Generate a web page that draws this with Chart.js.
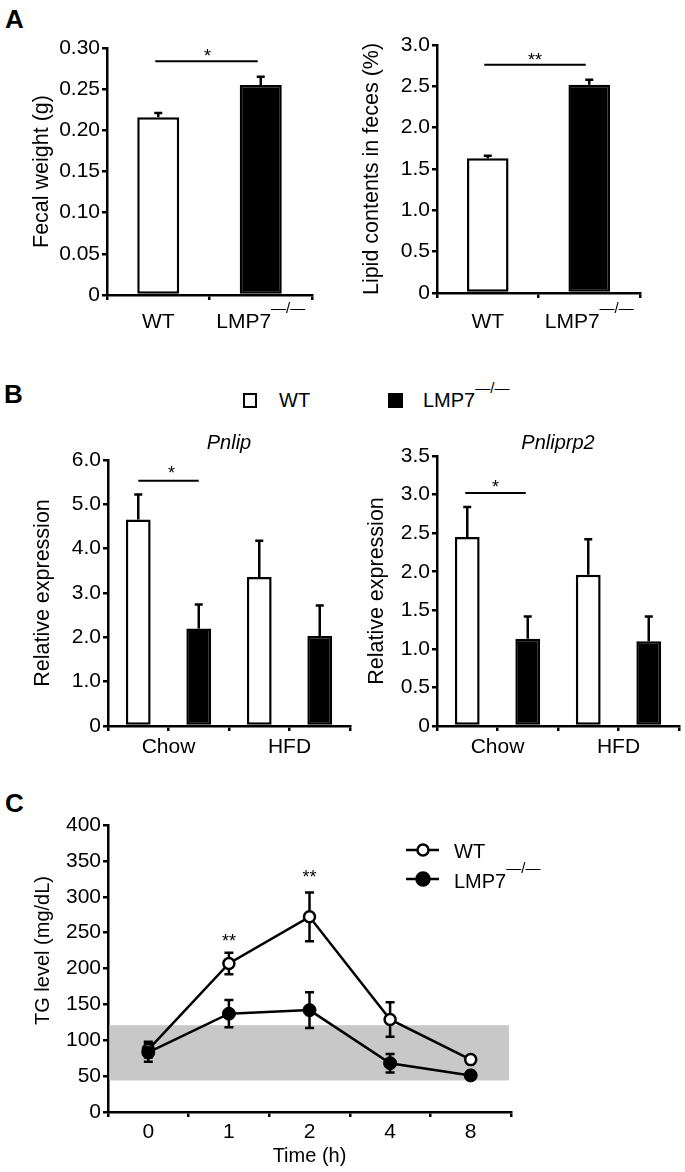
<!DOCTYPE html>
<html>
<head>
<meta charset="utf-8">
<title>LMP7 figure</title>
<script src="https://cdn.jsdelivr.net/npm/chart.js@4.4.1/dist/chart.umd.min.js"></script>
<style>
html,body{margin:0;padding:0;background:#fff;}
body{position:relative;width:685px;height:1172px;overflow:hidden;font-family:'Liberation Sans',Arial,Helvetica,sans-serif;color:#000;}
canvas{position:absolute;}
.lbl{position:absolute;line-height:1;white-space:nowrap;}
.panel{font-weight:bold;font-size:26px;}
.sw{position:absolute;box-sizing:border-box;border:2.5px solid #000;}
.sup{position:relative;top:-14px;font-size:15px;}
</style>
</head>
<body>
<div class="lbl panel" style="left:5px;top:6px">A</div>
<div class="lbl panel" style="left:4px;top:381px">B</div>
<div class="lbl panel" style="left:5px;top:790px">C</div>
<div class="sw" style="left:243px;top:393px;width:14px;height:15px;background:#fff"></div>
<div class="lbl" style="left:279px;top:390px;font-size:20px">WT</div>
<div class="sw" style="left:388px;top:393px;width:15px;height:15px;background:#000"></div>
<div class="lbl" style="left:423px;top:390px;font-size:20px">LMP7<span class="sup">—/—</span></div>

<canvas id="cA1" width="345" height="345" style="left:0;top:0"></canvas>
<canvas id="cA2" width="345" height="345" style="left:340px;top:0"></canvas>
<canvas id="cB1" width="360" height="360" style="left:0;top:420px"></canvas>
<canvas id="cB2" width="340" height="360" style="left:345px;top:420px"></canvas>
<canvas id="cC" width="685" height="392" style="left:0;top:780px"></canvas>

<script>
// ---------------- data ----------------
const genotypes = ['WT', 'LMP7'];
const genotypeSup = ['', '—/—'];

const fecalWeight = [0.216, 0.255];
const fecalWeightErr = [0.005, 0.010];
const fecalTicks = [0, 0.05, 0.10, 0.15, 0.20, 0.25, 0.30];

const lipidContent = [1.63, 2.52];
const lipidContentErr = [0.03, 0.06];
const lipidTicks = [0, 0.5, 1.0, 1.5, 2.0, 2.5, 3.0];

const diets = ['Chow', 'HFD'];
const pnlipWT = [4.66, 3.36];
const pnlipWTErr = [0.56, 0.82];
const pnlipKO = [2.20, 2.03];
const pnlipKOErr = [0.54, 0.69];
const pnlipTicks = [0, 1, 2, 3, 4, 5, 6];

const pnliprp2WT = [2.45, 1.96];
const pnliprp2WTErr = [0.39, 0.46];
const pnliprp2KO = [1.13, 1.10];
const pnliprp2KOErr = [0.29, 0.32];
const pnliprp2Ticks = [0, 0.5, 1.0, 1.5, 2.0, 2.5, 3.0, 3.5];

const timePoints = ['0', '1', '2', '4', '8'];
const tgWT = [87, 207, 272, 129, 73];
const tgWTErr = [11, 15, 34, 24, 4];
const tgKO = [83, 137, 142, 68, 51];
const tgKOErr = [13, 19, 25, 13, 6];
const tgTicks = [0, 50, 100, 150, 200, 250, 300, 350, 400];
const tgNormalRange = [44, 121];

// ---------------- helpers ----------------
const FONT = "'Liberation Sans', Arial, Helvetica, sans-serif";
Chart.defaults.font.family = FONT;
Chart.defaults.color = '#000';
const BLACK = '#000';
const AXW = 2.5;

function drawSup(ctx, base, sup, x, y, fs, sfs, rise, align) {
  ctx.save();
  ctx.fillStyle = BLACK;
  ctx.textBaseline = 'alphabetic';
  ctx.textAlign = 'left';
  ctx.font = fs + 'px ' + FONT;
  const w1 = ctx.measureText(base).width;
  ctx.font = sfs + 'px ' + FONT;
  const w2 = sup ? ctx.measureText(sup).width : 0;
  const x0 = align === 'center' ? x - (w1 + w2) / 2 : x;
  ctx.font = fs + 'px ' + FONT;
  ctx.fillText(base, x0, y);
  if (sup) {
    ctx.font = sfs + 'px ' + FONT;
    ctx.fillText(sup, x0 + w1, y - rise);
  }
  ctx.restore();
}

function yAxis(ticksArr, dec, title, titleSize, titleCenter, width) {
  const lh = titleSize * 1.2;
  return {
    type: 'linear',
    min: ticksArr[0],
    max: ticksArr[ticksArr.length - 1],
    afterBuildTicks: s => { s.ticks = ticksArr.map(v => ({ value: v })); },
    afterFit: s => { s.width = width; },
    grid: { drawOnChartArea: false, drawTicks: true, tickLength: 5, color: BLACK, lineWidth: AXW },
    border: { display: true, color: BLACK, width: AXW },
    ticks: { color: BLACK, font: { size: 21 }, padding: 2, callback: v => v === 0 ? '0' : Number(v).toFixed(dec) },
    title: { display: !!title, text: title || '', color: BLACK, font: { size: titleSize }, padding: { top: titleCenter - lh / 2, bottom: 0 } }
  };
}

function baseOptions(pad, scales) {
  return {
    responsive: false, animation: false, devicePixelRatio: 1, events: [],
    layout: { padding: pad },
    plugins: { legend: { display: false }, tooltip: { enabled: false }, title: { display: false } },
    scales
  };
}

function barErrorPlugin(cap) {
  return {
    id: 'barErrors',
    afterDatasetsDraw(chart) {
      const { ctx } = chart;
      const ys = chart.scales.y;
      chart.data.datasets.forEach((ds, di) => {
        const meta = chart.getDatasetMeta(di);
        meta.data.forEach((bar, i) => {
          const raw = ds.data[i];
          const val = typeof raw === 'object' ? raw.y : raw;
          const yTop = ys.getPixelForValue(val);
          const yE = ys.getPixelForValue(val + ds.errors[i]);
          ctx.save();
          ctx.strokeStyle = BLACK; ctx.lineWidth = 2.5;
          ctx.beginPath();
          ctx.moveTo(bar.x, yTop); ctx.lineTo(bar.x, yE);
          ctx.moveTo(bar.x - cap, yE); ctx.lineTo(bar.x + cap, yE);
          ctx.stroke();
          ctx.restore();
        });
      });
    }
  };
}

function sigPlugin(s) {
  return {
    id: 'sig',
    afterDatasetsDraw(chart) {
      const { ctx, scales: { x, y } } = chart;
      const x1 = x.getPixelForValue(s.from) + s.dx;
      const x2 = x.getPixelForValue(s.to) + s.dx;
      const yy = y.getPixelForValue(s.value);
      ctx.save();
      ctx.strokeStyle = BLACK; ctx.lineWidth = 2;
      ctx.beginPath(); ctx.moveTo(x1, yy); ctx.lineTo(x2, yy); ctx.stroke();
      ctx.font = '18px ' + FONT; ctx.textAlign = 'center'; ctx.textBaseline = 'alphabetic'; ctx.fillStyle = BLACK;
      ctx.fillText(s.text, (x1 + x2) / 2 + s.starDx, yy + s.starDy);
      ctx.restore();
    }
  };
}

function genoLabelPlugin(baseline) {
  return {
    id: 'genoLabels',
    afterDraw(chart) {
      const { ctx, scales: { x } } = chart;
      genotypes.forEach((g, i) => drawSup(ctx, g, genotypeSup[i], x.getPixelForValue(i), baseline, 21, 15, 15, 'center'));
    }
  };
}

function geneTitlePlugin(text, baseline) {
  return {
    id: 'geneTitle',
    afterDraw(chart) {
      const { ctx, chartArea } = chart;
      ctx.save();
      ctx.font = 'italic 20px ' + FONT; ctx.fillStyle = BLACK;
      ctx.textAlign = 'center'; ctx.textBaseline = 'alphabetic';
      ctx.fillText(text, (chartArea.left + chartArea.right) / 2, baseline);
      ctx.restore();
    }
  };
}

// ---------------- Panel A ----------------
function panelA(id, values, errs, ticksArr, dec, title, titleCenter, yWidth, pad, xHeight, labelBaseline, sig) {
  new Chart(document.getElementById(id), {
    type: 'bar',
    data: {
      labels: genotypes,
      datasets: [{
        data: values, errors: errs,
        backgroundColor: ['#fff', '#000'], borderColor: BLACK, borderWidth: AXW, borderSkipped: false,
        barPercentage: 0.41, categoryPercentage: 1
      }]
    },
    options: baseOptions(pad, {
      x: {
        type: 'category', offset: true,
        grid: { offset: true, drawOnChartArea: false, drawTicks: true, tickLength: 5, color: BLACK, lineWidth: AXW },
        border: { display: true, color: BLACK, width: AXW },
        ticks: { display: false },
        afterFit: s => { s.height = xHeight; }
      },
      y: yAxis(ticksArr, dec, title, 21.5, titleCenter, yWidth)
    }),
    plugins: [barErrorPlugin(4), sigPlugin(sig), genoLabelPlugin(labelBaseline)]
  });
}

panelA('cA1', fecalWeight, fecalWeightErr, fecalTicks, 2, 'Fecal weight (g)', 42, 107,
  { left: 0, top: 48, right: 33, bottom: 0 }, 50, 328,
  { from: 0, to: 1, value: 0.284, dx: -3, text: '*', starDx: 1, starDy: 1 });

panelA('cA2', lipidContent, lipidContentErr, lipidTicks, 1, 'Lipid contents in feces (%)', 32, 97,
  { left: 0, top: 45, right: 45, bottom: 0 }, 52, 328,
  { from: 0, to: 1, value: 2.76, dx: -3.5, text: '**', starDx: 0, starDy: 1 });

// ---------------- Panel B ----------------
function panelB(id, wt, wtErr, ko, koErr, ticksArr, dec, gene, titleCenter, yWidth, pad, sig) {
  const nSlots = diets.length * 2;
  const slotTicks = Array.from({ length: nSlots + 1 }, (_, i) => i);
  new Chart(document.getElementById(id), {
    type: 'bar',
    data: {
      datasets: [
        { label: 'WT', data: wt.map((v, i) => ({ x: i * 2 + 0.5, y: v })), errors: wtErr,
          backgroundColor: '#fff', borderColor: BLACK, borderWidth: AXW, borderSkipped: false,
          grouped: false, barPercentage: 0.41, categoryPercentage: 1 },
        { label: 'LMP7', data: ko.map((v, i) => ({ x: i * 2 + 1.5, y: v })), errors: koErr,
          backgroundColor: '#000', borderColor: BLACK, borderWidth: AXW, borderSkipped: false,
          grouped: false, barPercentage: 0.41, categoryPercentage: 1 }
      ]
    },
    options: baseOptions(pad, {
      x: {
        type: 'linear', min: 0, max: nSlots, offset: false,
        afterBuildTicks: s => { s.ticks = slotTicks.map(v => ({ value: v })); },
        grid: { offset: false, drawOnChartArea: false, drawTicks: true, tickLength: 5, color: BLACK, lineWidth: AXW },
        border: { display: true, color: BLACK, width: AXW },
        ticks: { color: BLACK, font: { size: 21 }, padding: 4, autoSkip: false, maxRotation: 0,
          callback: v => (v % 2 === 1) ? diets[(v - 1) / 2] : '' },
        afterFit: s => { s.height = 54; }
      },
      y: yAxis(ticksArr, dec, 'Relative expression', 21.5, titleCenter, yWidth)
    }),
    plugins: [barErrorPlugin(4), sigPlugin(sig), geneTitlePlugin(gene, 29)]
  });
}

panelB('cB1', pnlipWT, pnlipWTErr, pnlipKO, pnlipKOErr, pnlipTicks, 1, 'Pnlip', 43, 108,
  { left: 0, top: 40, right: 10, bottom: 0 },
  { from: 0.5, to: 1.5, value: 5.53, dx: 0, text: '*', starDx: 3, starDy: -2 });

panelB('cB2', pnliprp2WT, pnliprp2WTErr, pnliprp2KO, pnliprp2KOErr, pnliprp2Ticks, 1, 'Pnliprp2', 32, 92,
  { left: 0, top: 36, right: 6, bottom: 0 },
  { from: 0.5, to: 1.5, value: 3.02, dx: -2, text: '*', starDx: 0, starDy: 0 });

// ---------------- Panel C ----------------
const tgSignif = [null, '**', '**', null, null];
const tgSignifAt = [null, 244, 333, null, null];

const cPlugin = {
  id: 'tgExtras',
  beforeDatasetsDraw(chart) {
    const { ctx, chartArea, scales: { y } } = chart;
    const y1 = y.getPixelForValue(tgNormalRange[1]);
    const y0 = y.getPixelForValue(tgNormalRange[0]);
    ctx.save();
    ctx.fillStyle = '#c8c8c8';
    ctx.fillRect(chartArea.left + 1.5, y1, chartArea.right - chartArea.left - 3.5, y0 - y1);
    // error bars
    ctx.strokeStyle = BLACK; ctx.lineWidth = 2.5;
    chart.data.datasets.forEach((ds, di) => {
      const meta = chart.getDatasetMeta(di);
      meta.data.forEach((pt, i) => {
        const v = ds.data[i], e = ds.errors[i];
        const yt = y.getPixelForValue(v + e), yb = y.getPixelForValue(v - e);
        ctx.beginPath();
        ctx.moveTo(pt.x, yt); ctx.lineTo(pt.x, yb);
        ctx.moveTo(pt.x - 4.5, yt); ctx.lineTo(pt.x + 4.5, yt);
        ctx.moveTo(pt.x - 4.5, yb); ctx.lineTo(pt.x + 4.5, yb);
        ctx.stroke();
      });
    });
    ctx.restore();
  },
  afterDraw(chart) {
    const { ctx, chartArea, scales: { x, y } } = chart;
    ctx.save();
    ctx.fillStyle = BLACK;
    // y-axis title
    ctx.save();
    ctx.translate(43, (chartArea.top + chartArea.bottom) / 2 - 18);
    ctx.rotate(-Math.PI / 2);
    ctx.font = '20px ' + FONT; ctx.textAlign = 'center'; ctx.textBaseline = 'middle';
    ctx.fillText('TG level (mg/dL)', 0, 0);
    ctx.restore();
    // significance
    ctx.font = '18px ' + FONT; ctx.textAlign = 'center'; ctx.textBaseline = 'alphabetic';
    tgSignif.forEach((t, i) => {
      if (t) ctx.fillText(t, x.getPixelForValue(i), y.getPixelForValue(tgSignifAt[i]) + 10);
    });
    // legend
    const rows = [
      { label: 'WT', sup: '', fill: '#fff', r: 5.5, yc: 70, base: 78 },
      { label: 'LMP7', sup: '—/—', fill: '#000', r: 6.5, yc: 99, base: 108 }
    ];
    rows.forEach(r => {
      ctx.strokeStyle = BLACK; ctx.lineWidth = 2.5;
      ctx.beginPath(); ctx.moveTo(406, r.yc); ctx.lineTo(439, r.yc); ctx.stroke();
      ctx.beginPath(); ctx.arc(423, r.yc, r.r, 0, Math.PI * 2);
      ctx.fillStyle = r.fill; ctx.fill(); ctx.stroke();
      drawSup(ctx, r.label, r.sup, 454, r.base, 20, 15, 15, 'left');
    });
    ctx.restore();
  }
};

new Chart(document.getElementById('cC'), {
  type: 'line',
  data: {
    labels: timePoints,
    datasets: [
      { label: 'WT', data: tgWT, errors: tgWTErr, borderColor: BLACK, borderWidth: 2.5, tension: 0,
        pointRadius: 5.5, pointBorderWidth: 2.5, pointBackgroundColor: '#fff', pointBorderColor: BLACK, order: 1 },
      { label: 'LMP7', data: tgKO, errors: tgKOErr, borderColor: BLACK, borderWidth: 2.5, tension: 0,
        pointRadius: 6.5, pointBorderWidth: 1, pointBackgroundColor: '#000', pointBorderColor: BLACK, order: 0 }
    ]
  },
  options: baseOptions({ left: 0, top: 45, right: 174, bottom: 0 }, {
    x: {
      type: 'category', offset: true,
      grid: { offset: true, drawOnChartArea: false, drawTicks: true, tickLength: 5, color: BLACK, lineWidth: AXW },
      border: { display: true, color: BLACK, width: AXW },
      ticks: { color: BLACK, font: { size: 21 }, padding: 3, autoSkip: false, maxRotation: 0 },
      title: { display: true, text: 'Time (h)', color: BLACK, font: { size: 20 }, padding: { top: 0, bottom: 4 } },
      afterFit: s => { s.height = 60; }
    },
    y: yAxis(tgTicks, 0, '', 20, 43, 108)
  }),
  plugins: [cPlugin]
});
</script>
</body>
</html>
